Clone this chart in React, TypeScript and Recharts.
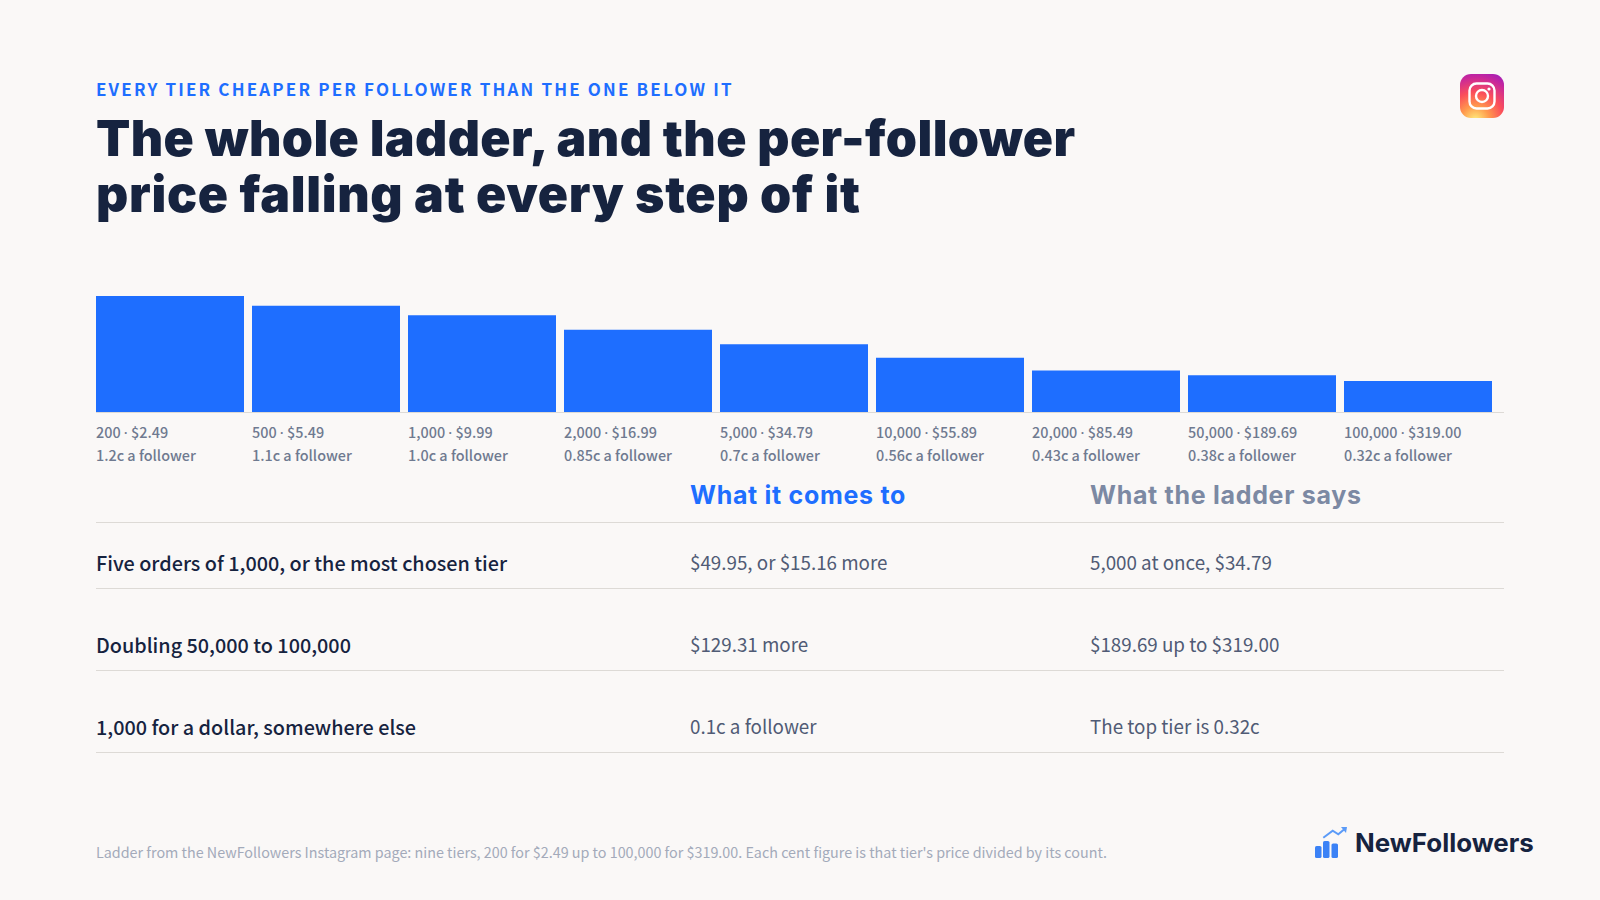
import { BarChart, Bar, XAxis, YAxis } from "recharts";

const tierCounts = ["200", "500", "1,000", "2,000", "5,000", "10,000", "20,000", "50,000", "100,000"];
const tierPrices = ["$2.49", "$5.49", "$9.99", "$16.99", "$34.79", "$55.89", "$85.49", "$189.69", "$319.00"];
const centsPerFollower = [1.2, 1.1, 1.0, 0.85, 0.7, 0.56, 0.43, 0.38, 0.32];
const centLabels = ["1.2c", "1.1c", "1.0c", "0.85c", "0.7c", "0.56c", "0.43c", "0.38c", "0.32c"];

const rowLabels = ["Five orders of 1,000, or the most chosen tier", "Doubling 50,000 to 100,000", "1,000 for a dollar, somewhere else"];
const rowComesTo = ["$49.95, or $15.16 more", "$129.31 more", "0.1c a follower"];
const rowLadder = ["5,000 at once, $34.79", "$189.69 up to $319.00", "The top tier is 0.32c"];

const chartData = tierCounts.map((count, i) => ({
  tier: count,
  cents: centsPerFollower[i],
}));

const BLUE = "#1e6eff";
const NAVY = "#16233f";
const BODY = "'Noto Sans CJK SC', 'Noto Sans', sans-serif";
const HEAD = "Inter, sans-serif";

function TierTick({ x, y, payload, index }: any) {
  const left = x - 74;
  return (
    <g fontFamily={BODY} fontSize={14.4} fontWeight={500} fill="#6f7a90">
      <text x={left} y={y + 26}>
        {payload.value} <tspan fontFamily="'Noto Sans'">·</tspan> {tierPrices[index]}
      </text>
      <text x={left} y={y + 48.5}>{`${centLabels[index]} a follower`}</text>
    </g>
  );
}

function InstagramIcon() {
  return (
    <svg width={44} height={44} viewBox="0 0 44 44" style={{ position: "absolute", left: 1460, top: 74 }}>
      <defs>
        <radialGradient id="ig" cx="0.35" cy="1.05" r="1.15">
          <stop offset="0" stopColor="#ffef7d" />
          <stop offset="0.28" stopColor="#ff9a4d" />
          <stop offset="0.55" stopColor="#fb4f5a" />
          <stop offset="0.85" stopColor="#c9279a" />
          <stop offset="1" stopColor="#a61fb5" />
        </radialGradient>
      </defs>
      <rect width={44} height={44} rx={11} fill="url(#ig)" />
      <rect x={9.5} y={9.5} width={25} height={25} rx={7} fill="none" stroke="#fff" strokeWidth={2.4} />
      <circle cx={22} cy={22} r={6} fill="none" stroke="#fff" strokeWidth={2.4} />
      <circle cx={29} cy={15} r={1.6} fill="#fff" />
    </svg>
  );
}

function LogoMark() {
  return (
    <svg width={36} height={34} viewBox="0 0 36 34" style={{ position: "absolute", left: 1314, top: 826 }}>
      <rect x={1} y={20} width={6.5} height={12} rx={1.6} fill="#3b82f6" />
      <rect x={9} y={15} width={6.5} height={17} rx={1.6} fill="#3b82f6" />
      <rect x={17.5} y={17.5} width={6.5} height={14.5} rx={1.6} fill="#3b82f6" />
      <path d="M9.3 11.7 L18.7 4.7 L24.3 8.3 L30 3.5" fill="none" stroke="#5b9bf8" strokeWidth={2} />
      <path d="M27 1 L33 1 L32 7 Z" fill="#5b9bf8" />
    </svg>
  );
}

export default function App() {
  const abs = (left: number, top: number, style: any = {}) => ({
    position: "absolute" as const,
    left,
    top,
    whiteSpace: "nowrap" as const,
    ...style,
  });
  return (
    <div style={{ position: "absolute", left: 0, top: 0, width: 1600, height: 900, background: "#faf8f7", overflow: "hidden" }}>
      <div style={abs(96, 78, { fontFamily: BODY, fontSize: 17, fontWeight: 700, letterSpacing: 2.15, color: BLUE, lineHeight: "22px" })}>
        EVERY TIER CHEAPER PER FOLLOWER THAN THE ONE BELOW IT
      </div>
      <div style={abs(96, 110, { fontFamily: HEAD, fontSize: 50, fontWeight: 900, color: NAVY, lineHeight: "56px" })}>
        <span style={{ letterSpacing: 0.39 }}>The whole ladder, and the per-follower</span>
        <br />
        <span style={{ letterSpacing: 0.71 }}>price falling at every step of it</span>
      </div>
      <InstagramIcon />

      <div style={{ position: "absolute", left: 0, top: 0 }}>
        <BarChart width={1600} height={500} data={chartData} margin={{ top: 296, right: 96, bottom: 0, left: 96 }}>
          <YAxis hide domain={[0, 1.2]} />
          <XAxis
            dataKey="tier"
            height={88}
            interval={0}
            padding={{ left: -4, right: 8 }}
            tickLine={false}
            tickSize={0}
            tickMargin={0}
            axisLine={{ stroke: "#dddad6", strokeWidth: 1, style: { transform: "translateY(0.5px)" } }}
            tick={<TierTick />}
          />
          <Bar dataKey="cents" fill={BLUE} barSize={148} isAnimationActive={false} />
        </BarChart>
      </div>

      <div style={abs(690, 478, { fontFamily: HEAD, fontSize: 25, fontWeight: 700, letterSpacing: 0.7, color: BLUE, lineHeight: "34px" })}>What it comes to</div>
      <div style={abs(1090, 478, { fontFamily: HEAD, fontSize: 25, fontWeight: 700, letterSpacing: 0.7, color: "#7c89a3", lineHeight: "34px" })}>What the ladder says</div>
      {[522, 588, 670, 752].map((lineTop) => (
        <div key={lineTop} style={{ position: "absolute", left: 96, top: lineTop, width: 1408, height: 1, background: "#dddad6" }} />
      ))}
      {rowLabels.map((label, i) => (
        <div key={label}>
          <div style={abs(96, 547 + i * 82, { fontFamily: BODY, fontSize: 19.8, fontWeight: 500, color: NAVY, lineHeight: "32px" })}>{label}</div>
          <div style={abs(690, 546 + i * 82, { fontFamily: BODY, fontSize: 18.8, color: "#505b75", lineHeight: "32px" })}>{rowComesTo[i]}</div>
          <div style={abs(1090, 546 + i * 82, { fontFamily: BODY, fontSize: 18.8, color: "#505b75", lineHeight: "32px" })}>{rowLadder[i]}</div>
        </div>
      ))}
      <div style={abs(96, 841, { fontFamily: BODY, fontSize: 14.33, color: "#a3aaba", lineHeight: "22px" })}>
        Ladder from the NewFollowers Instagram page: nine tiers, 200 for $2.49 up to 100,000 for $319.00. Each cent figure is that tier's price divided by its count.
      </div>
      <LogoMark />
      <div style={abs(1355, 826, { fontFamily: HEAD, fontSize: 25.9, fontWeight: 700, color: NAVY, lineHeight: "34px" })}>NewFollowers</div>
    </div>
  );
}
